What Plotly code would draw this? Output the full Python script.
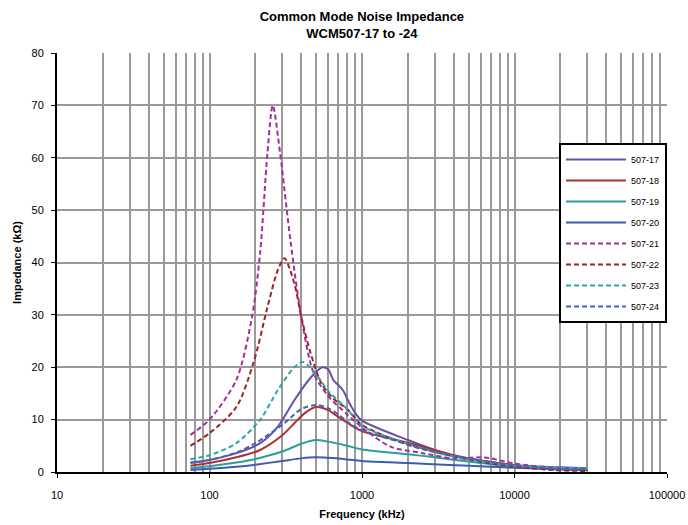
import plotly.graph_objects as go

# Frequency points (kHz) for each series and impedance values (kOhm)
f_17 = [75, 100, 150, 215, 280, 360, 460, 550, 600, 650, 700, 750, 800, 900, 1000, 2000, 3000, 4000, 5000, 7000, 10000, 20000, 30000]
z_17 = [1.8, 2.3, 3.6, 5.5, 8.6, 13.7, 18.0, 20.0, 19.6, 17.5, 16.6, 15.6, 14.0, 11.3, 9.8, 6.1, 4.2, 3.0, 2.6, 1.9, 1.3, 0.9, 0.7]

f_18 = [75, 100, 150, 215, 300, 360, 420, 500, 600, 700, 800, 1000, 2000, 3000, 4000, 5000, 7000, 10000, 20000, 30000]
z_18 = [1.2, 1.7, 2.8, 4.2, 7.0, 9.3, 11.2, 12.4, 11.8, 10.5, 9.4, 7.8, 5.6, 4.2, 3.2, 2.6, 1.9, 1.3, 0.6, 0.4]

f_19 = [75, 100, 150, 200, 300, 400, 500, 600, 800, 1000, 2000, 3000, 5000, 7000, 10000, 20000, 30000]
z_19 = [0.75, 1.1, 1.8, 2.5, 3.9, 5.4, 6.1, 5.8, 5.0, 4.3, 3.4, 2.8, 2.0, 1.5, 1.1, 0.6, 0.5]

f_20 = [75, 100, 150, 200, 300, 400, 500, 600, 800, 1000, 2000, 5000, 10000, 20000, 30000]
z_20 = [0.4, 0.6, 1.0, 1.4, 2.1, 2.6, 2.8, 2.7, 2.4, 2.1, 1.7, 1.2, 0.8, 0.5, 0.4]

f_21 = [75, 100, 150, 190, 215, 240, 260, 290, 340, 400, 480, 600, 800, 1050, 1550, 2500, 4000, 6000, 7000, 10000, 20000, 30000]
z_21 = [7.1, 10.0, 17.6, 29.6, 42.0, 61.0, 70.0, 61.0, 44.0, 29.6, 19.0, 14.5, 11.0, 8.0, 4.8, 3.6, 2.6, 2.8, 2.6, 1.6, 0.7, 0.4]

f_22 = [75, 100, 150, 195, 240, 280, 310, 360, 400, 460, 540, 650, 800, 1000, 2000, 3000, 5000, 7000, 10000, 20000, 30000]
z_22 = [5.0, 7.4, 12.4, 21.0, 31.5, 38.5, 40.8, 36.0, 29.6, 22.7, 17.0, 14.0, 12.0, 9.0, 5.2, 3.8, 2.4, 1.6, 1.0, 0.3, 0.2]

f_23 = [75, 100, 150, 215, 280, 360, 410, 490, 600, 800, 1000, 2000, 3000, 5000, 7000, 10000, 20000, 30000]
z_23 = [2.5, 3.2, 5.5, 10.0, 15.6, 20.0, 21.0, 19.0, 15.5, 12.0, 8.8, 5.4, 3.8, 2.4, 1.8, 1.2, 0.8, 0.7]

f_24 = [75, 100, 150, 200, 300, 400, 500, 600, 700, 800, 1000, 2000, 3000, 5000, 7000, 10000, 20000, 30000]
z_24 = [1.7, 2.3, 3.7, 5.5, 9.0, 12.0, 12.8, 12.2, 11.0, 9.6, 8.0, 5.3, 3.9, 2.6, 1.9, 1.2, 0.6, 0.5]

names = ["507-17", "507-18", "507-19", "507-20", "507-21", "507-22", "507-23", "507-24"]
freqs = [f_17, f_18, f_19, f_20, f_21, f_22, f_23, f_24]
imps = [z_17, z_18, z_19, z_20, z_21, z_22, z_23, z_24]
colors = ["#6A4EA8", "#B0302E", "#2A9E9C", "#3F5BB5", "#A02FA0", "#9E2424", "#2AA8A8", "#4464B8"]
dashes = ["solid", "solid", "solid", "solid", "5px,3px", "5px,3px", "5px,3px", "5px,3px"]

x_tickvals = [10, 100, 1000, 10000, 100000]
x_ticktext = ["10", "100", "1000", "10000", "100000"]
y_tickvals = [0, 10, 20, 30, 40, 50, 60, 70, 80]

fig = go.Figure()
for n, fx, zy, c, d in zip(names, freqs, imps, colors, dashes):
    fig.add_trace(go.Scatter(x=fx, y=zy, name=n, mode="lines",
                             line=dict(color=c, width=2, dash=d, shape="spline", smoothing=0.8),
                             legendgroup=n))

font = "Liberation Sans, Arial, sans-serif"
fig.update_layout(
    width=688, height=525,
    paper_bgcolor="white", plot_bgcolor="white",
    margin=dict(l=57, r=21, t=53, b=53, autoexpand=False),
    font=dict(family=font, size=11, color="black"),
    title=dict(text="<b>Common Mode Noise Impedance<br>WCM507-17 to -24</b>",
               x=0.526, xanchor="center", y=0.96, yanchor="middle",
               font=dict(size=13, family=font)),
    showlegend=True,
    legend=dict(x=1, xanchor="right", y=0.785, yanchor="top",
                bgcolor="white", bordercolor="black", borderwidth=2,
                font=dict(size=9), traceorder="grouped", tracegroupgap=2,
                itemwidth=60),
    xaxis=dict(type="log", range=[1, 5], tickvals=x_tickvals, ticktext=x_ticktext,
               automargin=False, ticklabelstandoff=8,
               showgrid=True, gridcolor="#9A9A9A", gridwidth=2,
               minor=dict(dtick="D1", showgrid=True, gridcolor="#9A9A9A", gridwidth=2),
               showline=True, linecolor="black", linewidth=2,
               ticks="outside", ticklen=4, tickcolor="black",
               title=dict(text="<b>Frequency (kHz)</b>", font=dict(size=11), standoff=10),
               zeroline=False, mirror=False),
    yaxis=dict(range=[0, 80], tickvals=y_tickvals, automargin=False,
               ticklabelstandoff=5,
               showgrid=True, gridcolor="#9A9A9A", gridwidth=2,
               showline=True, linecolor="black", linewidth=2,
               ticks="outside", ticklen=4, tickcolor="black",
               title=dict(text="<b>Impedance (kΩ)</b>", font=dict(size=11), standoff=8),
               zeroline=False),
)

fig.write_html("out.html", config={"displayModeBar": False},
               post_script="document.body.style.margin='0';document.body.style.overflow='hidden';")
